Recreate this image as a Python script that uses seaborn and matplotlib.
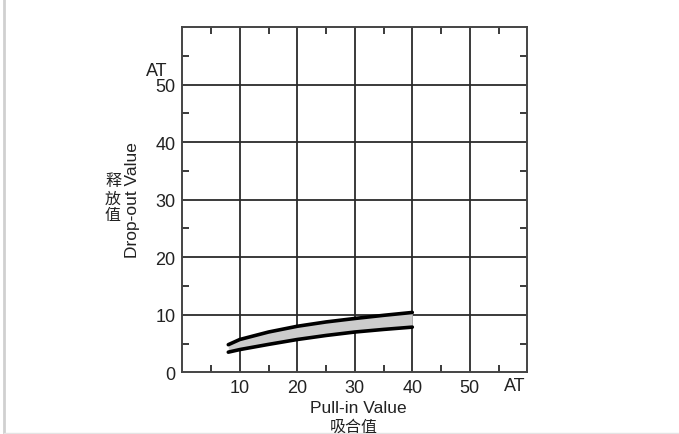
import numpy as np
import pandas as pd
import matplotlib
matplotlib.use("Agg")
import matplotlib.pyplot as plt
import seaborn as sns
from matplotlib.lines import Line2D

# Werte (AT)
pull_in = [8, 10, 15, 20, 25, 30, 35, 40]
drop_upper = [4.8, 5.7, 7.0, 8.0, 8.75, 9.35, 9.9, 10.4]
drop_lower = [3.5, 3.95, 4.85, 5.7, 6.4, 7.0, 7.45, 7.85]

x_ticks = [10, 20, 30, 40, 50]
y_ticks = [0, 10, 20, 30, 40, 50]
minor_ticks = [5, 15, 25, 35, 45, 55]

df = pd.DataFrame({"Pull-in": pull_in, "oben": drop_upper, "unten": drop_lower})

sns.set_style("white")
plt.rcParams["font.family"] = ["Liberation Sans Narrow", "Liberation Sans", "Noto Sans CJK SC"]

W, H = 679, 435
fig = plt.figure(figsize=(W / 100, H / 100), dpi=100)
ax = fig.add_axes([182.3 / W, (H - 373.3) / H, 345 / W, 345.3 / H])

grid_col = "#2b2b2b"
for v in x_ticks:
    ax.axvline(v, color=grid_col, lw=1.3, zorder=1)
for v in y_ticks[1:]:
    ax.axhline(v, color=grid_col, lw=1.3, zorder=1)

ax.fill_between(df["Pull-in"], df["unten"], df["oben"], color="#cccccc", zorder=2, lw=0)
sns.lineplot(data=df, x="Pull-in", y="oben", color="black", lw=2.6, ax=ax, zorder=3)
sns.lineplot(data=df, x="Pull-in", y="unten", color="black", lw=2.6, ax=ax, zorder=3)

ax.set_xlim(0, 60)
ax.set_ylim(0, 60)
ax.set_xticks(x_ticks)
ax.set_yticks(y_ticks)
ax.set_xticks(minor_ticks, minor=True)
ax.set_yticks(minor_ticks, minor=True)
ax.tick_params(which="major", length=0, labelsize=13, pad=5, labelcolor="#222222")
ax.tick_params(which="minor", direction="in", length=5, width=1.3, color=grid_col,
               top=True, right=True, bottom=True, left=True)
ax.set_xlabel("")
ax.set_ylabel("")
for s in ax.spines.values():
    s.set_color("#444444")
    s.set_linewidth(1.4)

def px(x, y):
    return x / W, 1 - y / H

fig.text(*px(157, 71), "AT", ha="center", va="center", fontsize=13, color="#222222")
fig.text(*px(515, 387), "AT", ha="center", va="center", fontsize=13, color="#222222")
fig.text(*px(358, 409), "Pull-in Value", ha="center", va="center", fontsize=12.5, color="#222222")
fig.text(*px(354, 427), "吸合值", ha="center", va="center", fontsize=11.5, color="#222222",
         family=["Noto Sans CJK SC", "DejaVu Sans"])
fig.text(*px(133, 200), "Drop-out Value", ha="center", va="center", rotation=90,
         fontsize=12.5, color="#222222")
fig.text(*px(113, 199), "释\n放\n值", ha="center", va="center", fontsize=11.5,
         color="#222222", linespacing=1.0, family=["Noto Sans CJK SC", "DejaVu Sans"])

# Seitenrahmen des Originals
fig.add_artist(Line2D([4 / W, 4 / W], [0, 1], transform=fig.transFigure, color="#d0d0d0", lw=2))
fig.add_artist(Line2D([4 / W, 1], [1 - 433.5 / H] * 2, transform=fig.transFigure, color="#e4e4e4", lw=1))

fig.savefig("out.png", dpi=100)
